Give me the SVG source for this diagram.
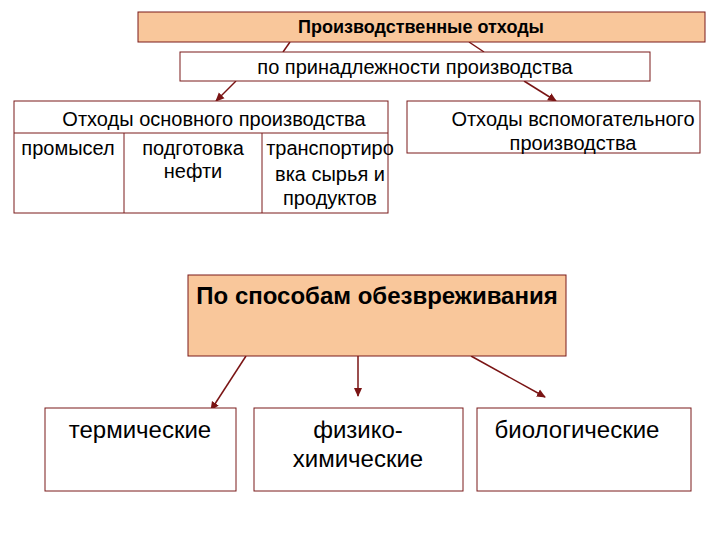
<svg xmlns="http://www.w3.org/2000/svg" width="720" height="540" viewBox="0 0 720 540">
<style>
.b{fill:#fff;stroke:#7a1a1a;stroke-width:1}
.o{fill:#f9c79b;stroke:#7a1a1a;stroke-width:1}
.t{font-family:"Liberation Sans",Arial,sans-serif;font-size:20px;fill:#000;text-anchor:middle}
.l{font-size:24px}
.c{stroke:#7a1414;stroke-width:1.5;fill:none}
</style>
<defs><marker id="a" markerWidth="10" markerHeight="10" refX="8" refY="5" orient="auto" markerUnits="userSpaceOnUse"><path d="M0,1 L9,5 L0,9 z" fill="#7a1414"/></marker></defs>
<rect width="720" height="540" fill="#fff"/>
<g id="connectors">
<line class="c" x1="290" y1="42" x2="283" y2="52"/>
<line class="c" x1="469" y1="42" x2="484" y2="52"/>
<line class="c" x1="236" y1="81" x2="216" y2="101" marker-end="url(#a)"/>
<line class="c" x1="524" y1="81" x2="556" y2="101" marker-end="url(#a)"/>
<line class="c" x1="246" y1="356" x2="211" y2="410" marker-end="url(#a)"/>
<line class="c" x1="358" y1="356" x2="358" y2="396" marker-end="url(#a)"/>
<line class="c" x1="471" y1="356" x2="545" y2="397" marker-end="url(#a)"/>
</g>
<g id="top"><rect class="o" x="138" y="12" width="567" height="30"/><text class="t" x="421" y="33" style="font-size:18px;font-weight:bold">Производственные отходы</text></g>
<g id="belong"><rect class="b" x="180" y="52" width="470" height="29"/><text class="t" x="415" y="74">по принадлежности производства</text></g>
<g id="main"><rect class="b" x="14" y="101" width="374" height="112"/>
<line stroke="#7a1a1a" x1="14" y1="133" x2="388" y2="133"/>
<line stroke="#7a1a1a" x1="124" y1="133" x2="124" y2="213"/>
<line stroke="#7a1a1a" x1="262" y1="133" x2="262" y2="213"/>
<text class="t" x="214" y="126">Отходы основного производства</text>
<text class="t" x="68" y="155">промысел</text>
<text class="t" x="193" y="155">подготовка</text><text class="t" x="193" y="178">нефти</text>
<text class="t" x="330" y="155">транспортиро</text><text class="t" x="330" y="181">вка сырья и</text><text class="t" x="330" y="205">продуктов</text>
</g>
<g id="aux"><rect class="b" x="407" y="101" width="293" height="52"/><text class="t" x="573" y="126">Отходы вспомогательного</text><text class="t" x="573" y="150">производства</text></g>
<g id="method"><rect class="o" x="188" y="275" width="378" height="81"/><text class="t l" x="377" y="304" style="font-weight:bold">По способам обезвреживания</text></g>
<g id="therm"><rect class="b" x="45" y="408" width="191" height="83"/><text class="t l" x="140" y="438">термические</text></g>
<g id="phys"><rect class="b" x="254" y="408" width="209" height="83"/><text class="t l" x="358" y="438">физико-</text><text class="t l" x="358" y="467">химические</text></g>
<g id="bio"><rect class="b" x="477" y="408" width="214" height="83"/><text class="t l" x="577" y="438">биологические</text></g>
</svg>
